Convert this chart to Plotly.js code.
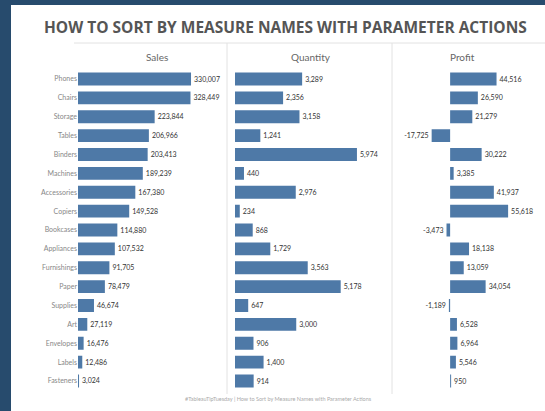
<!DOCTYPE html>
<html>
<head>
<meta charset="utf-8">
<script src="https://cdn.plot.ly/plotly-3.0.1.min.js"></script>
<style>html,body{margin:0;padding:0;background:#fff;}#chart{width:545px;height:411px;}</style>
</head>
<body>
<div id="chart"></div>
<script>
var categories = ["Phones","Chairs","Storage","Tables","Binders","Machines","Accessories","Copiers","Bookcases","Appliances","Furnishings","Paper","Supplies","Art","Envelopes","Labels","Fasteners"];
var sales = [330007,328449,223844,206966,203413,189239,167380,149528,114880,107532,91705,78479,46674,27119,16476,12486,3024];
var quantity = [3289,2356,3158,1241,5974,440,2976,234,868,1729,3563,5178,647,3000,906,1400,914];
var profit = [44516,26590,21279,-17725,30222,3385,41937,55618,-3473,18138,13059,34054,-1189,6528,6964,5546,950];
var measures = ["Sales","Quantity","Profit"];

var W = 545, H = 411;
function px(x){return x/W;}
function py(y){return 1 - y/H;}
var barColor = "#4e79a7";
function fmt(v){return v.toLocaleString("en-US");}

function bar(vals, xa){
  return {type:"bar", orientation:"h", x:vals, y:categories, xaxis:xa, yaxis:"y",
    marker:{color:barColor, line:{width:0}}, width:0.68,
    text:vals.map(fmt), textposition:"outside", cliponaxis:false,
    textfont:{size:7, color:"#333", family:"Lato, sans-serif"},
    hoverinfo:"none"};
}
var data = [bar(sales,"x"), bar(quantity,"x2"), bar(profit,"x3")];

var axBase = {showgrid:false, zeroline:false, showticklabels:false, showline:false, ticks:"", fixedrange:true};
var layout = {
  width:W, height:H, margin:{l:0,r:0,t:0,b:0},
  paper_bgcolor:"#fff", plot_bgcolor:"rgba(0,0,0,0)",
  showlegend:false, bargap:0.3,
  font:{family:"Lato, sans-serif"},
  xaxis:Object.assign({}, axBase, {domain:[px(78),px(228)], range:[0,438000], anchor:"y"}),
  xaxis2:Object.assign({}, axBase, {domain:[px(235),px(393)], range:[0,7740], anchor:"y"}),
  xaxis3:Object.assign({}, axBase, {domain:[px(393),1], range:[-54800,91000], anchor:"y"}),
  yaxis:{domain:[py(390.4),py(69.6)], autorange:"reversed", type:"category", anchor:"x",
    showgrid:false, zeroline:false, showline:false, ticks:"", ticklen:0,
    tickfont:{size:7, color:"#888", family:"Lato, sans-serif"}, fixedrange:true},
  shapes:[
    {type:"rect", xref:"paper", yref:"paper", x0:0, x1:px(11), y0:0, y1:1, fillcolor:"#274b6d", line:{width:0}},
    {type:"rect", xref:"paper", yref:"paper", x0:0, x1:1, y0:py(5), y1:1, fillcolor:"#274b6d", line:{width:0}},
    {type:"line", xref:"paper", yref:"paper", x0:px(74), x1:1, y0:py(43), y1:py(43), line:{color:"#e2e2e2", width:1}},
    {type:"line", xref:"paper", yref:"paper", x0:px(227), x1:px(227), y0:py(43), y1:py(394), line:{color:"#e2e2e2", width:1}},
    {type:"line", xref:"paper", yref:"paper", x0:px(392), x1:px(392), y0:py(43), y1:py(394), line:{color:"#e2e2e2", width:1}}
  ],
  annotations:[
    {text:"<b>HOW TO SORT BY MEASURE NAMES WITH PARAMETER ACTIONS</b>", xref:"paper", yref:"paper", x:px(285), y:py(27), xanchor:"center", yanchor:"middle", showarrow:false,
     font:{size:15.5, color:"#555", family:"Open Sans, sans-serif"}},
    {text:measures[0], xref:"paper", yref:"paper", x:px(157), y:py(57), xanchor:"center", yanchor:"middle", showarrow:false, font:{size:10, color:"#666"}},
    {text:measures[1], xref:"paper", yref:"paper", x:px(311), y:py(57), xanchor:"center", yanchor:"middle", showarrow:false, font:{size:10, color:"#666"}},
    {text:measures[2], xref:"paper", yref:"paper", x:px(462), y:py(57), xanchor:"center", yanchor:"middle", showarrow:false, font:{size:10, color:"#666"}},
    {text:"#TableauTipTuesday | How to Sort by Measure Names with Parameter Actions", xref:"paper", yref:"paper", x:px(278), y:py(399), xanchor:"center", yanchor:"middle", showarrow:false, font:{size:5.5, color:"#aaa"}}
  ]
};
Plotly.newPlot("chart", data, layout, {staticPlot:true, displayModeBar:false});
</script>
</body>
</html>
